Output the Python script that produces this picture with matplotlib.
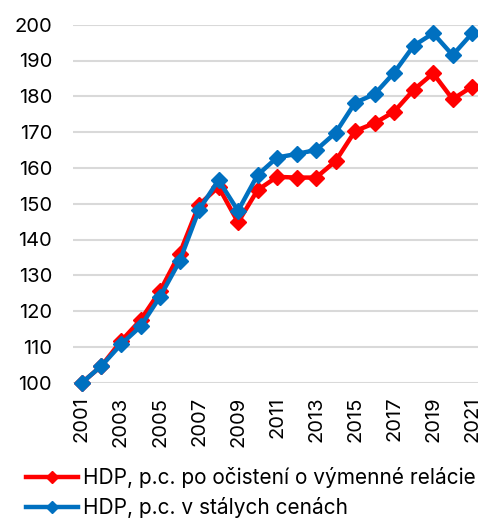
import matplotlib
matplotlib.use("Agg")
import matplotlib.pyplot as plt

years = list(range(2001, 2022))
red_vals = [100, 104.7, 111.6, 117.5, 125.6, 136.0, 149.7, 154.7, 144.8, 153.8,
            157.5, 157.3, 157.3, 161.9, 170.3, 172.5, 175.7, 181.8, 186.4, 179.2, 182.7]
blue_vals = [100, 104.7, 110.7, 115.7, 124.0, 133.9, 148.3, 156.6, 148.0, 158.0,
             162.9, 163.9, 165.0, 169.8, 178.2, 180.6, 186.6, 194.1, 197.6, 191.5, 197.6]
red_label = "HDP, p.c. po očistení o výmenné relácie"
blue_label = "HDP, p.c. v stálych cenách"
xticks = list(range(2001, 2022, 2))
yticks = list(range(100, 201, 10))

plt.rcParams['font.family'] = ['Inter', 'DejaVu Sans']

fig = plt.figure(figsize=(4.78, 5.18), dpi=100)
ax = fig.add_axes([73/478, 1 - 382.7/518, (478-73)/478, (382.7-24.7)/518])

ax.plot(years, red_vals, color='#FF0000', lw=3.2, marker='D', ms=8.5,
        label=red_label, clip_on=False, zorder=3)
ax.plot(years, blue_vals, color='#0070C0', lw=3.2, marker='D', ms=8.5,
        label=blue_label, clip_on=False, zorder=4)

ax.set_ylim(100, 200)
ax.set_xlim(2000.54, 2021.3)
ax.set_yticks(yticks)
ax.set_xticks(xticks)
ax.set_xticklabels([str(x) for x in xticks], rotation=90, fontsize=14.5)
ax.tick_params(axis='y', labelsize=14.5, length=0, pad=15)
ax.tick_params(axis='x', length=0, pad=10)
ax.grid(axis='y', color='#D9D9D9', lw=1.5)
ax.set_axisbelow(True)
for s in ax.spines.values():
    s.set_visible(False)

leg = fig.legend(loc='lower left', bbox_to_anchor=(0.028, -0.024), frameon=False,
                 fontsize=15, handlelength=2.5, handletextpad=0.25,
                 labelspacing=0.42, markerscale=0.75, borderaxespad=0.2)

fig.savefig("out.png", dpi=100)
